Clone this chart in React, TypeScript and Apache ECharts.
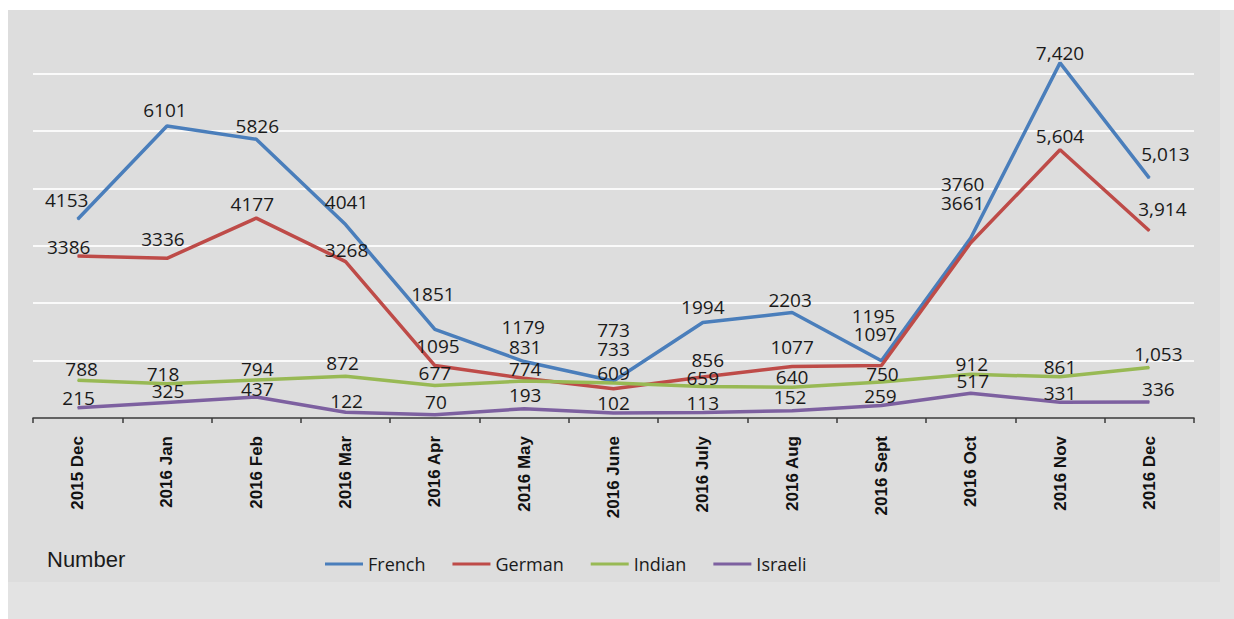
import React, { useEffect, useRef } from "react";
import * as echarts from "echarts";

const categories = [
  "2015 Dec", "2016 Jan", "2016 Feb", "2016 Mar", "2016 Apr", "2016 May", "2016 June",
  "2016 July", "2016 Aug", "2016 Sept", "2016 Oct", "2016 Nov", "2016 Dec",
];
const french = [4153, 6101, 5826, 4041, 1851, 1179, 773, 1994, 2203, 1195, 3760, 7420, 5013];
const german = [3386, 3336, 4177, 3268, 1095, 831, 609, 856, 1077, 1097, 3661, 5604, 3914];
const indian = [788, 718, 794, 872, 677, 774, 733, 659, 640, 750, 912, 861, 1053];
const israeli = [215, 325, 437, 122, 70, 193, 102, 113, 152, 259, 517, 331, 336];

// label offsets (dx, dy) from each point, as placed in the original
const frenchOffsets = [[-11, -19], [-2, -16], [1, -13], [1, -23], [-2, -35], [-1, -35], [0, -51], [0, -16], [-2, -13], [-8, -45], [-8, -54], [0, -10], [16, -24]];
const germanOffsets = [[-9, -9], [-4, -19], [-4, -14], [1, -12], [3, -20], [1, -31], [0, -16], [5, -17], [0, -19], [-6, -32], [-8, -40], [0, -14], [13, -22]];
const indianOffsets = [[4, -11], [-4, -10], [1, -11], [-3, -13], [0, -13], [1, -12], [0, -34], [0, -8], [0, -10], [1, -8], [1, -10], [0, -10], [9, -14]];
const israeliOffsets = [[1, -10], [1, -11], [1, -8], [1, -11], [1, -13], [1, -14], [0, -10], [0, -10], [-2, -14], [-1, -10], [2, -12], [0, -9], [9, -13]];

const commaFromIndex = 11;

const yMin = 0;
const yMax = 8400;
const yInterval = 1200;

const labelFont = "'Open Sans', 'Liberation Sans', sans-serif";

function makeSeries(name: string, values: number[], offsets: number[][], color: string) {
  return {
    name,
    type: "line",
    symbol: "circle",
    symbolSize: 1,
    showSymbol: true,
    lineStyle: { color, width: 3.5 },
    itemStyle: { color },
    label: {
      show: true,
      position: "inside",
      fontFamily: labelFont,
      fontSize: 19,
      lineHeight: 16,
      color: "#1a1a1a",
      formatter: (p: any) =>
        p.dataIndex >= commaFromIndex ? Number(p.value).toLocaleString("en-US") : String(p.value),
    },
    emphasis: { disabled: true },
    data: values.map((v, i) => ({ value: v, label: { offset: offsets[i] } })),
  };
}

export default function App() {
  const ref = useRef<HTMLDivElement>(null);

  useEffect(() => {
    document.body.style.margin = "0";
    if (!ref.current) return;
    const chart = echarts.init(ref.current, undefined, { renderer: "svg" });
    chart.setOption({
      animation: false,
      backgroundColor: "transparent",
      grid: { left: 33, right: 40, top: 16, bottom: 201, containLabel: false },
      legend: {
        left: 320,
        top: 550,
        icon: "rect",
        itemWidth: 38,
        itemHeight: 3,
        itemGap: 27,
        textStyle: { fontFamily: labelFont, fontSize: 18, color: "#1a1a1a" },
        data: ["French", "German", "Indian", "Israeli"],
      },
      graphic: [
        {
          type: "text",
          left: 47,
          top: 548,
          style: {
            text: "Number",
            fontFamily: "'Liberation Sans', Arial, sans-serif",
            fontSize: 22,
            fill: "#1a1a1a",
          },
        },
      ],
      xAxis: {
        type: "category",
        data: categories,
        boundaryGap: true,
        axisLine: { lineStyle: { color: "#3a3a3a", width: 1.5 } },
        axisTick: { show: true, length: 5, interval: 0, lineStyle: { color: "#3a3a3a", width: 1.5 } },
        axisLabel: {
          interval: 0,
          rotate: 90,
          margin: 18,
          fontFamily: "'Liberation Sans', Arial, sans-serif",
          fontWeight: "bold",
          fontSize: 17,
          color: "#111",
        },
        splitLine: { show: false },
      },
      yAxis: {
        type: "value",
        min: yMin,
        max: yMax,
        interval: yInterval,
        axisLine: { show: false },
        axisTick: { show: false },
        axisLabel: { show: false },
        splitLine: {
          show: true,
          showMinLine: false,
          showMaxLine: false,
          lineStyle: { color: "#fafafa", width: 2 },
        },
      },
      series: [
        makeSeries("French", french, frenchOffsets, "#4A7EBB"),
        makeSeries("German", german, germanOffsets, "#BE4B48"),
        makeSeries("Indian", indian, indianOffsets, "#98B954"),
        makeSeries("Israeli", israeli, israeliOffsets, "#7D60A0"),
      ],
    });
    return () => chart.dispose();
  }, []);

  return (
    <div style={{ position: "relative", width: 1234, height: 619, background: "#ffffff", overflow: "hidden" }}>
      <div style={{ position: "absolute", left: 8, top: 10, width: 1226, height: 609, background: "#e3e3e3" }} />
      <div style={{ position: "absolute", left: 8, top: 10, width: 1212, height: 572, background: "#dddddd" }} />
      <div ref={ref} style={{ position: "absolute", left: 0, top: 0, width: 1234, height: 619 }} />
    </div>
  );
}
